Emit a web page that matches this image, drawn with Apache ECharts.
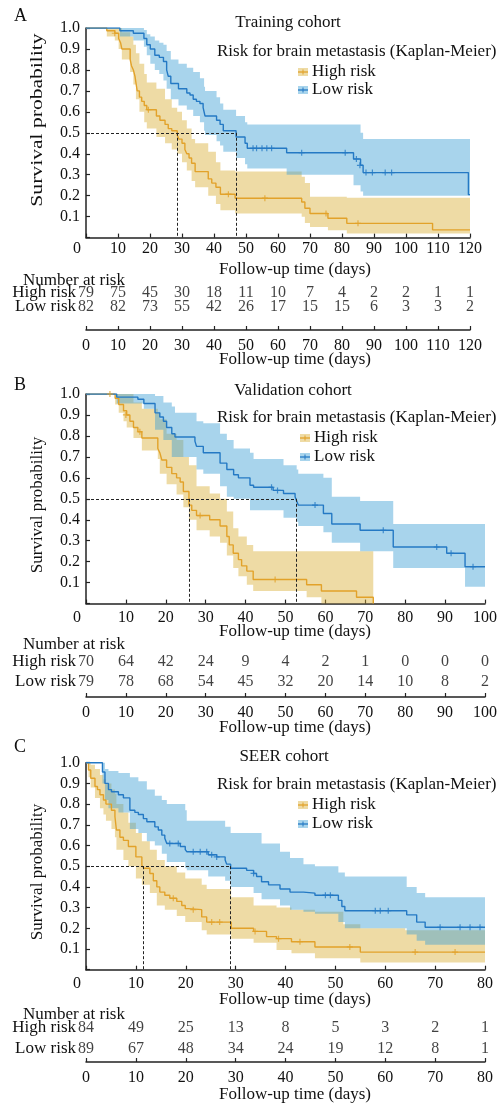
<!DOCTYPE html>
<html>
<head>
<meta charset="utf-8">
<script src="https://cdn.jsdelivr.net/npm/echarts@6/dist/echarts.min.js"></script>
<style>
html, body { margin: 0; padding: 0; background: #fff; }
#chart { width: 503px; height: 1105px; }
</style>
</head>
<body>
<div id="chart"></div>
<script>
// ---------- data: Training cohort ----------
var trainHighCurve = [[0,1.0],[6.5,0.987],[9,0.975],[10.2,0.95],[10.8,0.93],[11.2,0.90],[13.8,0.85],[14.2,0.82],[14.8,0.80],[15.3,0.77],[15.6,0.74],[16.0,0.70],[16.7,0.67],[17.4,0.65],[18.2,0.63],[19.0,0.61],[22.0,0.58],[23.1,0.56],[24.7,0.54],[25.7,0.52],[26.8,0.51],[28.5,0.49],[29.0,0.47],[30.0,0.45],[30.9,0.42],[31.5,0.40],[32.2,0.38],[33.0,0.355],[34.1,0.315],[38.2,0.28],[39.3,0.26],[40.6,0.24],[42.0,0.207],[46.6,0.188],[67.4,0.17],[68.4,0.14],[70.0,0.115],[75.6,0.092],[81.5,0.068],[108.3,0.037],[120,0.037]];
var trainLowCurve = [[0,1.0],[10.6,0.987],[14.8,0.975],[18.1,0.95],[19.0,0.92],[20.1,0.90],[21.5,0.87],[22.9,0.86],[24.2,0.84],[25.2,0.80],[25.7,0.77],[26.5,0.735],[28.9,0.71],[31.5,0.69],[32.5,0.68],[33.5,0.66],[34.5,0.65],[35.6,0.64],[36.6,0.62],[36.9,0.60],[37.2,0.58],[40.8,0.56],[41.9,0.54],[42.9,0.51],[46.9,0.48],[49.7,0.45],[50.4,0.426],[62.7,0.405],[83.6,0.375],[85.8,0.345],[86.6,0.31],[119.5,0.205],[120,0.205]];
var trainHighBand = [[0,1.0,1.0],[6.5,0.96,1.0],[9,0.94,1.0],[10.2,0.90,1.0],[11.2,0.85,0.98],[13.8,0.79,0.96],[14.8,0.73,0.92],[15.6,0.66,0.88],[16.7,0.60,0.83],[18.2,0.55,0.78],[19.0,0.52,0.74],[22.0,0.48,0.71],[24.7,0.45,0.66],[26.8,0.42,0.62],[28.5,0.40,0.60],[30.0,0.36,0.56],[31.5,0.32,0.52],[33.0,0.27,0.47],[34.1,0.24,0.45],[38.2,0.20,0.41],[40.6,0.16,0.36],[42.0,0.13,0.32],[46.6,0.115,0.315],[67.4,0.10,0.29],[68.4,0.07,0.26],[70.0,0.05,0.195],[75.6,0.035,0.195],[81.5,0.02,0.19],[120,0.02,0.19]];
var trainLowBand = [[0,1.0,1.0],[10.6,0.96,1.0],[14.8,0.94,1.0],[18.1,0.91,0.99],[19.0,0.87,0.97],[20.1,0.83,0.96],[21.5,0.80,0.94],[22.9,0.78,0.93],[24.2,0.75,0.92],[25.2,0.71,0.89],[26.5,0.66,0.85],[28.9,0.63,0.83],[31.5,0.61,0.81],[33.5,0.58,0.79],[35.6,0.55,0.76],[36.9,0.51,0.72],[37.2,0.49,0.70],[40.8,0.46,0.67],[41.9,0.44,0.64],[42.9,0.41,0.61],[46.9,0.38,0.58],[49.7,0.35,0.55],[50.4,0.33,0.54],[62.7,0.30,0.54],[83.6,0.25,0.54],[85.8,0.22,0.50],[86.6,0.20,0.47],[120,0.20,0.47]];
var trainHighCensor = [[9,0.975],[19.5,0.61],[44.5,0.207],[55.9,0.188],[75,0.115],[85,0.068]];
var trainLowCensor = [[52.2,0.426],[53.3,0.426],[55,0.426],[56.5,0.426],[58,0.426],[67.4,0.405],[81,0.405],[84.5,0.375],[85.6,0.345],[87.5,0.31],[89.5,0.31],[93.5,0.31],[95.5,0.31]];
var trainMedians = [28.6, 46.9];
var trainTimes = [0,10,20,30,40,50,60,70,80,90,100,110,120];
var trainHighRisk = [79,75,45,30,18,11,10,7,4,2,2,1,1];
var trainLowRisk = [82,82,73,55,42,26,17,15,15,6,3,3,2];

// ---------- data: Validation cohort ----------
var validHighCurve = [[0,1.0],[7.3,0.98],[8.2,0.95],[9.4,0.92],[10.2,0.90],[11.0,0.87],[11.9,0.84],[13.0,0.82],[14.0,0.79],[18.0,0.74],[18.5,0.72],[19.0,0.685],[20.2,0.65],[21.5,0.62],[22.7,0.60],[23.6,0.58],[24.4,0.535],[25.8,0.47],[26.5,0.445],[27.7,0.42],[31.0,0.40],[33.6,0.37],[35.3,0.32],[35.9,0.28],[36.9,0.24],[38.2,0.21],[39.0,0.18],[40.3,0.155],[41.9,0.115],[55.3,0.09],[59.0,0.06],[67.8,0.03],[72.0,0.0]];
var validLowCurve = [[0,1.0],[7.7,0.985],[13.0,0.975],[14.5,0.955],[17.3,0.91],[18.5,0.89],[19.4,0.87],[20.2,0.84],[21.5,0.81],[22.3,0.795],[27.3,0.775],[27.7,0.75],[29.4,0.72],[33.6,0.67],[35.3,0.64],[37.0,0.615],[38.2,0.60],[41.1,0.565],[42.0,0.555],[46.9,0.54],[49.5,0.525],[52.4,0.51],[52.8,0.49],[53.2,0.47],[59.5,0.43],[61.6,0.38],[68.7,0.35],[77.0,0.27],[90.4,0.24],[95.0,0.176],[100,0.176]];
var validHighBand = [[0,1.0,1.0],[7.3,0.95,1.0],[8.2,0.91,1.0],[9.4,0.87,1.0],[10.2,0.84,1.0],[11.9,0.79,0.96],[14.0,0.73,0.93],[18.0,0.69,0.91],[18.5,0.62,0.88],[20.2,0.57,0.81],[22.7,0.52,0.78],[24.4,0.46,0.70],[25.8,0.40,0.66],[27.7,0.35,0.56],[31.0,0.32,0.525],[33.6,0.29,0.50],[35.3,0.23,0.44],[36.9,0.17,0.36],[38.2,0.13,0.32],[40.3,0.09,0.28],[41.9,0.06,0.25],[55.3,0.03,0.25],[59.0,0.0,0.25],[72.0,0.0,0.25]];
var validLowBand = [[0,1.0,1.0],[7.7,0.955,1.0],[14.5,0.93,1.0],[17.3,0.83,0.99],[19.4,0.78,0.96],[21.5,0.70,0.94],[22.3,0.70,0.91],[27.7,0.64,0.87],[29.4,0.62,0.86],[33.6,0.56,0.81],[35.3,0.51,0.78],[37.0,0.50,0.74],[41.1,0.445,0.72],[42.0,0.445,0.69],[49.5,0.41,0.66],[52.8,0.39,0.64],[53.2,0.37,0.62],[59.5,0.34,0.60],[61.6,0.29,0.51],[68.7,0.25,0.49],[77.0,0.17,0.38],[95.0,0.08,0.38],[100,0.08,0.38]];
var validHighCensor = [[6,1.0],[10,0.90],[13.5,0.82],[28.6,0.42],[47.4,0.115]];
var validLowCensor = [[46.5,0.555],[48,0.54],[57.4,0.47],[74.5,0.35],[87.9,0.27],[91.5,0.24],[97,0.176]];
var validMedians = [25.8, 52.8];
var validTimes = [0,10,20,30,40,50,60,70,80,90,100];
var validHighRisk = [70,64,42,24,9,4,2,1,0,0,0];
var validLowRisk = [79,78,68,54,45,32,20,14,10,8,2];

// ---------- data: SEER cohort ----------
var seerHighCurve = [[0,1.0],[0.5,0.965],[0.95,0.925],[1.8,0.885],[2.3,0.87],[2.8,0.845],[3.5,0.82],[4.0,0.80],[5.1,0.77],[5.8,0.74],[6.1,0.675],[6.8,0.64],[7.5,0.625],[8.5,0.595],[10.0,0.545],[11.2,0.505],[11.6,0.49],[12.8,0.465],[13.5,0.43],[14.2,0.40],[14.8,0.375],[15.8,0.36],[16.8,0.345],[18.2,0.33],[19.2,0.31],[19.9,0.295],[20.5,0.29],[23.2,0.255],[24.2,0.23],[29.1,0.20],[33.6,0.185],[36.2,0.16],[38.2,0.15],[41.2,0.135],[45.9,0.11],[55.0,0.085],[80,0.085]];
var seerLowCurve = [[0,1.0],[3.3,0.955],[3.8,0.90],[4.5,0.87],[5.1,0.86],[6.5,0.845],[7.5,0.83],[8.8,0.77],[9.8,0.76],[10.5,0.75],[11.5,0.73],[12.2,0.715],[13.8,0.69],[14.5,0.675],[15.2,0.65],[15.8,0.635],[16.2,0.61],[18.9,0.595],[19.9,0.58],[20.2,0.57],[24.5,0.555],[26.2,0.545],[27.9,0.53],[28.2,0.51],[29.0,0.49],[32.2,0.48],[33.6,0.465],[34.2,0.45],[35.2,0.425],[36.6,0.41],[38.9,0.39],[40.9,0.375],[43.6,0.37],[45.9,0.36],[50.6,0.335],[51.3,0.305],[51.9,0.285],[64.3,0.265],[66.3,0.23],[68.0,0.205],[80,0.205]];
var seerHighBand = [[0,1.0,1.0],[0.5,0.93,1.0],[0.95,0.88,0.99],[1.8,0.83,0.97],[2.8,0.78,0.94],[3.5,0.75,0.92],[4.0,0.72,0.90],[5.1,0.68,0.87],[5.8,0.64,0.85],[6.1,0.58,0.80],[7.5,0.53,0.76],[8.5,0.50,0.71],[10.0,0.44,0.66],[11.2,0.41,0.62],[12.8,0.37,0.58],[14.2,0.31,0.53],[15.8,0.29,0.50],[18.2,0.26,0.47],[19.9,0.23,0.44],[23.2,0.19,0.41],[24.2,0.17,0.39],[29.1,0.15,0.35],[33.6,0.13,0.31],[38.2,0.095,0.30],[41.2,0.08,0.29],[45.9,0.055,0.28],[51.6,0.055,0.22],[55.0,0.035,0.20],[64.0,0.035,0.19],[80,0.035,0.19]];
var seerLowBand = [[0,1.0,1.0],[3.3,0.90,1.0],[3.8,0.82,0.97],[4.5,0.78,0.96],[6.5,0.76,0.95],[8.8,0.68,0.93],[10.5,0.66,0.91],[12.2,0.62,0.87],[13.8,0.60,0.84],[15.2,0.56,0.82],[16.2,0.52,0.80],[19.9,0.49,0.77],[20.2,0.48,0.72],[24.5,0.45,0.72],[27.9,0.43,0.69],[29.0,0.40,0.66],[33.6,0.37,0.66],[35.2,0.34,0.61],[38.9,0.31,0.57],[40.9,0.29,0.54],[43.6,0.28,0.51],[45.9,0.27,0.50],[50.6,0.23,0.47],[51.9,0.20,0.45],[64.3,0.17,0.40],[66.3,0.14,0.37],[68.0,0.12,0.35],[80,0.12,0.35]];
var seerHighCensor = [[17.5,0.345],[21.5,0.29],[25.2,0.23],[26.8,0.23],[33.9,0.185],[38.6,0.15],[42.9,0.135],[52.9,0.11],[66,0.085],[74,0.085]];
var seerLowCensor = [[16.8,0.61],[18.5,0.61],[21.5,0.57],[22.9,0.57],[24.2,0.57],[25.2,0.555],[26.2,0.545],[33.6,0.465],[48,0.36],[49,0.36],[58,0.285],[59,0.285],[60.6,0.285],[71,0.205],[75,0.205],[77,0.205],[79,0.205]];
var seerMedians = [11.5, 29.0];
var seerTimes = [0,10,20,30,40,50,60,70,80];
var seerHighRisk = [84,49,25,13,8,5,3,2,1];
var seerLowRisk = [89,67,48,34,24,19,12,8,1];

var groupNames = ['High risk', 'Low risk'];
var panelTitles = ['Training cohort', 'Validation cohort', 'SEER cohort'];
var panelLetters = ['A', 'B', 'C'];

// ---------- style ----------
var FONT = '"Liberation Serif", "Times New Roman", serif';
var INK = '#111';
var ORANGE = '#E2A22A', BLUE = '#2479C4';
var ORANGE_FILL = 'rgba(217,175,55,0.45)', BLUE_FILL = 'rgba(62,159,213,0.45)';
var ORANGE_SWATCH = '#EEDBA5', BLUE_SWATCH = '#A8D4EC';

var panels = [
    { max: 120, plotTop: 28, plotH: 209.6, plotW: 384, labelGap: 3,
      letterY: 16, titleX: 288, titleY: 23, riskY: 52, legY: [72, 90], swX: 298,
      yNameY: 120, yNameScale: 1.27, xNameY: 270,
      tabTop: 286, tabH: 28, tabOffset: 16, numY: 281, tabNameY: 360,
      high: trainHighCurve, low: trainLowCurve, highBand: trainHighBand, lowBand: trainLowBand,
      highCensor: trainHighCensor, lowCensor: trainLowCensor, medians: trainMedians,
      times: trainTimes, highRisk: trainHighRisk, lowRisk: trainLowRisk },
    { max: 100, plotTop: 394, plotH: 209.6, plotW: 399, labelGap: 6,
      letterY: 385, titleX: 293, titleY: 391, riskY: 418, legY: [438, 457], swX: 300,
      yNameY: 505, yNameScale: 1, xNameY: 632,
      tabTop: 652, tabH: 40, tabOffset: 5, numY: 645, tabNameY: 728,
      high: validHighCurve, low: validLowCurve, highBand: validHighBand, lowBand: validLowBand,
      highCensor: validHighCensor, lowCensor: validLowCensor, medians: validMedians,
      times: validTimes, highRisk: validHighRisk, lowRisk: validLowRisk },
    { max: 80, plotTop: 762.7, plotH: 207, plotW: 399, labelGap: 6,
      letterY: 747, titleX: 284, titleY: 757, riskY: 785, legY: [805, 824], swX: 298,
      yNameY: 872, yNameScale: 1, xNameY: 1000,
      tabTop: 1017.5, tabH: 42, tabOffset: 2.5, numY: 1015, tabNameY: 1095,
      high: seerHighCurve, low: seerLowCurve, highBand: seerHighBand, lowBand: seerLowBand,
      highCensor: seerHighCensor, lowCensor: seerLowCensor, medians: seerMedians,
      times: seerTimes, highRisk: seerHighRisk, lowRisk: seerLowRisk }
];

var LEFT = 86;
var CROSS = 'path://M4,0H6V4H10V6H6V10H4V6H0V4H4Z';
var AXIS_LINE = { show: true, lineStyle: { color: '#222', width: 1.5 } };
var AXIS_TICK = { show: true, inside: true, length: 4, lineStyle: { color: '#222', width: 1.2 } };

function txt(x, y, s, size, align, extra) {
    var el = {
        type: 'text', x: x, y: y, silent: true,
        style: { text: s, fill: INK, fontFamily: FONT, fontSize: size,
                 align: align || 'left', textAlign: align || 'left',
                 verticalAlign: 'middle', textVerticalAlign: 'middle' }
    };
    if (extra) { for (var k in extra) el[k] = extra[k]; }
    return el;
}

// confidence band as one step polygon, converted through the axis scales
function bandSeries(rows, fill, gi) {
    return {
        type: 'custom', xAxisIndex: gi, yAxisIndex: gi, silent: true, z: 1,
        data: rows, encode: { x: 0, y: [1, 2] },
        renderItem: function (params, api) {
            if (params.dataIndex !== 0) return null;
            var up = [], dn = [];
            for (var i = 0; i < rows.length - 1; i++) {
                var t0 = rows[i][0], t1 = rows[i + 1][0];
                up.push(api.coord([t0, rows[i][2]]), api.coord([t1, rows[i][2]]));
                dn.push(api.coord([t0, rows[i][1]]), api.coord([t1, rows[i][1]]));
            }
            return { type: 'polygon', shape: { points: up.concat(dn.reverse()) }, style: { fill: fill } };
        }
    };
}

var grid = [], xAxis = [], yAxis = [], series = [], graphic = [];

panels.forEach(function (p, i) {
    var tg = i + 3;
    grid[i] = { left: LEFT, top: p.plotTop, width: p.plotW, height: p.plotH };
    grid[tg] = { left: LEFT, top: p.tabTop, width: p.plotW, height: p.tabH };

    xAxis[i] = {
        type: 'value', gridIndex: i, min: 0, max: p.max, interval: 10,
        axisLine: AXIS_LINE, axisTick: AXIS_TICK, splitLine: { show: false },
        axisLabel: {
            color: INK, fontFamily: FONT, fontSize: 16, margin: p.labelGap,
            formatter: function (v) { return v === 0 ? '{z|0}' : String(v); },
            rich: { z: { padding: [0, 18, 0, 0], color: INK, fontFamily: FONT, fontSize: 16 } }
        }
    };
    yAxis[i] = {
        type: 'value', gridIndex: i, min: 0, max: 1, interval: 0.1,
        axisLine: AXIS_LINE, axisTick: AXIS_TICK, splitLine: { show: false },
        axisLabel: {
            color: INK, fontFamily: FONT, fontSize: 16, margin: 6,
            formatter: function (v) { return v === 0 ? '' : v.toFixed(1); }
        }
    };
    xAxis[tg] = {
        type: 'value', gridIndex: tg, min: 0, max: p.max, interval: 10, offset: p.tabOffset,
        axisLine: AXIS_LINE, axisTick: AXIS_TICK, splitLine: { show: false },
        axisLabel: { color: INK, fontFamily: FONT, fontSize: 16, margin: 8 }
    };
    yAxis[tg] = {
        type: 'category', gridIndex: tg, data: ['Low risk', 'High risk'],
        axisLine: { show: false }, axisTick: { show: false },
        axisLabel: { color: INK, fontFamily: FONT, fontSize: 17, margin: 10, interval: 0 }
    };

    series.push(bandSeries(p.highBand, ORANGE_FILL, i));
    series.push(bandSeries(p.lowBand, BLUE_FILL, i));
    series.push({
        name: groupNames[0], type: 'line', step: 'end', xAxisIndex: i, yAxisIndex: i,
        data: p.high, symbol: 'none', z: 3, lineStyle: { color: ORANGE, width: 1.4 }
    });
    series.push({
        name: groupNames[1], type: 'line', step: 'end', xAxisIndex: i, yAxisIndex: i,
        data: p.low, symbol: 'none', z: 3, lineStyle: { color: BLUE, width: 1.4 },
        markLine: {
            silent: true, symbol: 'none', animation: false, label: { show: false },
            lineStyle: { color: '#222', type: [3, 2], width: 1 },
            data: [
                [{ coord: [0, 0.5] }, { coord: [p.medians[1], 0.5] }],
                [{ coord: [p.medians[0], 0.5] }, { coord: [p.medians[0], 0] }],
                [{ coord: [p.medians[1], 0.5] }, { coord: [p.medians[1], 0] }]
            ]
        }
    });
    series.push({
        type: 'scatter', xAxisIndex: i, yAxisIndex: i, data: p.highCensor, z: 4,
        symbol: CROSS, symbolSize: 6, itemStyle: { color: ORANGE }
    });
    series.push({
        type: 'scatter', xAxisIndex: i, yAxisIndex: i, data: p.lowCensor, z: 4,
        symbol: CROSS, symbolSize: 6, itemStyle: { color: BLUE }
    });

    // number at risk rows
    [p.lowRisk, p.highRisk].forEach(function (arr, row) {
        series.push({
            type: 'scatter', xAxisIndex: tg, yAxisIndex: tg, symbolSize: 0,
            data: p.times.map(function (t, k) { return [t, row, arr[k]]; }),
            label: {
                show: true, position: 'inside', color: INK, fontFamily: FONT, fontSize: 16,
                textBorderWidth: 0, textBorderColor: 'transparent',
                formatter: function (q) { return String(q.value[2]); }
            }
        });
    });

    // free text
    graphic.push(txt(14, p.letterY, panelLetters[i], 18, 'left'));
    graphic.push(txt(p.titleX, p.titleY, panelTitles[i], 17, 'center'));
    graphic.push(txt(217, p.riskY, 'Risk for brain metastasis (Kaplan-Meier)', 17, 'left'));
    graphic.push(txt(38, p.yNameY, 'Survival probability', 17, 'center',
        { rotation: Math.PI / 2, scaleX: p.yNameScale }));
    graphic.push(txt(295, p.xNameY, 'Follow-up time (days)', 17, 'center'));
    graphic.push(txt(23, p.numY, 'Number at risk', 17, 'left'));
    graphic.push(txt(295, p.tabNameY, 'Follow-up time (days)', 17, 'center'));

    // legend
    [[ORANGE_SWATCH, ORANGE], [BLUE_SWATCH, BLUE]].forEach(function (c, k) {
        var y = p.legY[k];
        graphic.push({ type: 'rect', silent: true, shape: { x: p.swX, y: y - 4, width: 10, height: 8 }, style: { fill: c[0] } });
        graphic.push({ type: 'line', silent: true, shape: { x1: p.swX, y1: y, x2: p.swX + 10, y2: y }, style: { stroke: c[1], lineWidth: 1.3 } });
        graphic.push({ type: 'line', silent: true, shape: { x1: p.swX + 5, y1: y - 2.5, x2: p.swX + 5, y2: y + 2.5 }, style: { stroke: c[1], lineWidth: 1 } });
        graphic.push(txt(p.swX + 14, y, groupNames[k], 17, 'left'));
    });
});

var myChart = echarts.init(document.getElementById('chart'));
myChart.setOption({
    animation: false,
    backgroundColor: '#fff',
    grid: grid,
    xAxis: xAxis,
    yAxis: yAxis,
    series: series,
    graphic: { elements: graphic }
});
window.onresize = function () { myChart.resize(); };
</script>
</body>
</html>
